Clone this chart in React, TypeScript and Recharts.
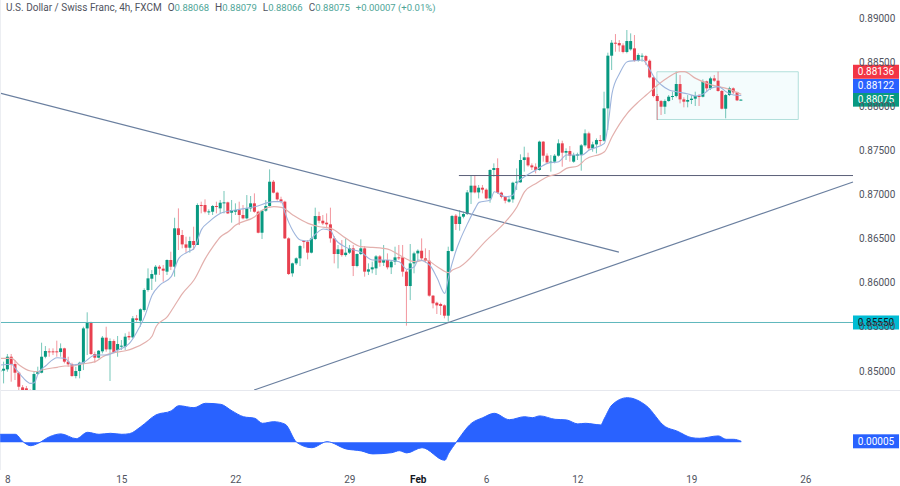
import { Area, Bar, ComposedChart, Line, ReferenceArea, ReferenceDot, ReferenceLine, XAxis, YAxis } from "recharts";

// 4h candles
const opens = [
  0.84992, 0.85004, 0.85019, 0.85162, 0.85079, 0.84981, 0.84815, 0.84804, 0.84766, 0.84747,
  0.84966, 0.84981, 0.85162, 0.85223, 0.85223, 0.85223, 0.85215, 0.85257, 0.85106, 0.85076,
  0.84943, 0.85000, 0.85087, 0.85483, 0.85551, 0.85193, 0.85151, 0.85223, 0.85378, 0.85245,
  0.85340, 0.85238, 0.85276, 0.85276, 0.85397, 0.85381, 0.85597, 0.85570, 0.85691, 0.85918,
  0.86046, 0.86092, 0.86182, 0.86160, 0.86126, 0.86258, 0.86182, 0.86617, 0.86541, 0.86435,
  0.86397, 0.86473, 0.86428, 0.86881, 0.86881, 0.86805, 0.86805, 0.86870, 0.86843, 0.86907,
  0.86911, 0.86794, 0.86805, 0.86824, 0.86768, 0.86730, 0.86843, 0.86900, 0.86805, 0.86567,
  0.86817, 0.86870, 0.87145, 0.87021, 0.86945, 0.86919, 0.86503, 0.86107, 0.86220, 0.86277,
  0.86473, 0.86465, 0.86341, 0.86496, 0.86756, 0.86703, 0.86681, 0.86662, 0.86503, 0.86326,
  0.86379, 0.86314, 0.86341, 0.86390, 0.86190, 0.86326, 0.86390, 0.86126, 0.86152, 0.86163,
  0.86299, 0.86228, 0.86258, 0.86175, 0.86239, 0.86288, 0.86288, 0.86126, 0.85963, 0.86220,
  0.86333, 0.86363, 0.86277, 0.86250, 0.85854, 0.85774, 0.85759, 0.85744, 0.85627, 0.86360,
  0.86760, 0.86666, 0.86749, 0.86779, 0.87024, 0.87100, 0.87024, 0.87077, 0.87055, 0.86956,
  0.87278, 0.87300, 0.87021, 0.86975, 0.86919, 0.86945, 0.87134, 0.87138, 0.87391, 0.87421,
  0.87330, 0.87315, 0.87278, 0.87599, 0.87440, 0.87364, 0.87372, 0.87440, 0.87580, 0.87474,
  0.87493, 0.87372, 0.87440, 0.87447, 0.87557, 0.87693, 0.87523, 0.87568, 0.87617, 0.87610,
  0.87976, 0.88573, 0.88720, 0.88716, 0.88690, 0.88615, 0.88645, 0.88656, 0.88516, 0.88569,
  0.88569, 0.88516, 0.88327, 0.88116, 0.88059, 0.87995, 0.88059, 0.88108, 0.88116, 0.88252,
  0.88078, 0.88052, 0.88071, 0.88086, 0.88116, 0.88108, 0.88282, 0.88203, 0.88316, 0.88290,
  0.88173, 0.87972, 0.88127, 0.88203, 0.88158, 0.88068,
];
const highs = [
  0.85068, 0.85106, 0.85193, 0.85193, 0.85125, 0.84992, 0.84841, 0.84830, 0.84792, 0.84992,
  0.85049, 0.85321, 0.85283, 0.85257, 0.85257, 0.85344, 0.85313, 0.85264, 0.85162, 0.85094,
  0.85049, 0.85106, 0.85502, 0.85665, 0.85559, 0.85219, 0.85238, 0.85397, 0.85502, 0.85370,
  0.85359, 0.85397, 0.85351, 0.85427, 0.85446, 0.85623, 0.85635, 0.85710, 0.85937, 0.86163,
  0.86144, 0.86201, 0.86201, 0.86201, 0.86265, 0.86352, 0.86737, 0.86843, 0.86598, 0.86522,
  0.86522, 0.86635, 0.86900, 0.86919, 0.86945, 0.86832, 0.86881, 0.86919, 0.86938, 0.87040,
  0.86919, 0.86938, 0.86900, 0.86919, 0.86881, 0.86994, 0.86983, 0.87013, 0.86817, 0.86824,
  0.86938, 0.87285, 0.87164, 0.87032, 0.86975, 0.86930, 0.86515, 0.86228, 0.86288, 0.86428,
  0.86484, 0.86484, 0.86635, 0.86851, 0.86805, 0.86768, 0.86786, 0.86851, 0.86530, 0.86428,
  0.86484, 0.86503, 0.86428, 0.86428, 0.86333, 0.86492, 0.86416, 0.86220, 0.86239, 0.86314,
  0.86314, 0.86428, 0.86333, 0.86258, 0.86409, 0.86428, 0.86428, 0.86144, 0.86439, 0.86352,
  0.86379, 0.86503, 0.86390, 0.86371, 0.85861, 0.85786, 0.85774, 0.85755, 0.86409, 0.86768,
  0.86779, 0.86824, 0.86805, 0.87051, 0.87210, 0.87221, 0.87108, 0.87108, 0.87070, 0.87285,
  0.87353, 0.87410, 0.87032, 0.86983, 0.86975, 0.87145, 0.87296, 0.87455, 0.87542, 0.87474,
  0.87353, 0.87353, 0.87610, 0.87606, 0.87466, 0.87447, 0.87459, 0.87625, 0.87610, 0.87523,
  0.87549, 0.87474, 0.87474, 0.87572, 0.87738, 0.87712, 0.87598, 0.87636, 0.87674, 0.88165,
  0.88607, 0.88750, 0.88818, 0.88750, 0.88713, 0.88864, 0.88826, 0.88807, 0.88600, 0.88600,
  0.88581, 0.88531, 0.88335, 0.88139, 0.88071, 0.88078, 0.88127, 0.88165, 0.88392, 0.88354,
  0.88101, 0.88127, 0.88127, 0.88165, 0.88139, 0.88305, 0.88290, 0.88335, 0.88354, 0.88392,
  0.88184, 0.88139, 0.88222, 0.88214, 0.88165, 0.88079,
];
const lows = [
  0.84955, 0.84860, 0.84992, 0.84879, 0.84898, 0.84785, 0.84747, 0.84728, 0.84671, 0.84728,
  0.84955, 0.84974, 0.85144, 0.85162, 0.85181, 0.85162, 0.85162, 0.85087, 0.85049, 0.84936,
  0.84917, 0.84917, 0.85011, 0.85181, 0.85181, 0.85094, 0.85144, 0.85200, 0.85219, 0.84887,
  0.85200, 0.85162, 0.85238, 0.85238, 0.85351, 0.85370, 0.85559, 0.85502, 0.85672, 0.85899,
  0.85918, 0.86012, 0.86088, 0.86012, 0.86088, 0.86144, 0.86069, 0.86371, 0.86390, 0.86341,
  0.86341, 0.86371, 0.86428, 0.86787, 0.86787, 0.86768, 0.86768, 0.86787, 0.86786, 0.86786,
  0.86779, 0.86681, 0.86768, 0.86654, 0.86719, 0.86719, 0.86805, 0.86794, 0.86560, 0.86496,
  0.86805, 0.86862, 0.87013, 0.86930, 0.86900, 0.86496, 0.86088, 0.86069, 0.86201, 0.86190,
  0.86390, 0.86265, 0.86333, 0.86484, 0.86673, 0.86654, 0.86617, 0.86454, 0.86220, 0.86163,
  0.86296, 0.86296, 0.86326, 0.86076, 0.86175, 0.86314, 0.86069, 0.86088, 0.86107, 0.86088,
  0.86182, 0.86190, 0.86152, 0.86099, 0.86201, 0.86258, 0.86069, 0.85514, 0.85804, 0.86107,
  0.86258, 0.86258, 0.86228, 0.85842, 0.85710, 0.85646, 0.85635, 0.85597, 0.85559, 0.86352,
  0.86598, 0.86590, 0.86730, 0.86768, 0.86892, 0.87013, 0.86956, 0.87013, 0.86945, 0.86907,
  0.87202, 0.87006, 0.86956, 0.86900, 0.86907, 0.86907, 0.87051, 0.87134, 0.87259, 0.87315,
  0.87278, 0.87240, 0.87270, 0.87372, 0.87345, 0.87259, 0.87353, 0.87429, 0.87315, 0.87391,
  0.87372, 0.87360, 0.87391, 0.87270, 0.87542, 0.87504, 0.87485, 0.87466, 0.87561, 0.87599,
  0.87731, 0.88411, 0.88618, 0.88618, 0.88600, 0.88600, 0.88630, 0.88505, 0.88505, 0.88505,
  0.88467, 0.88316, 0.88101, 0.87844, 0.87901, 0.87912, 0.88052, 0.88071, 0.88101, 0.88033,
  0.87988, 0.87988, 0.88025, 0.88003, 0.88003, 0.88101, 0.88165, 0.88184, 0.88278, 0.88165,
  0.87965, 0.87863, 0.88116, 0.88139, 0.88059, 0.88066,
];
const closes = [
  0.85011, 0.85026, 0.85162, 0.85079, 0.84981, 0.84822, 0.84785, 0.84777, 0.84709, 0.84966,
  0.84992, 0.85162, 0.85227, 0.85215, 0.85215, 0.85215, 0.85257, 0.85106, 0.85076, 0.84943,
  0.85000, 0.85094, 0.85483, 0.85551, 0.85193, 0.85151, 0.85230, 0.85378, 0.85245, 0.85340,
  0.85212, 0.85306, 0.85287, 0.85389, 0.85381, 0.85597, 0.85578, 0.85699, 0.85918, 0.86050,
  0.86099, 0.86182, 0.86160, 0.86137, 0.86258, 0.86182, 0.86617, 0.86541, 0.86435, 0.86397,
  0.86473, 0.86428, 0.86881, 0.86877, 0.86805, 0.86809, 0.86870, 0.86862, 0.86907, 0.86911,
  0.86786, 0.86824, 0.86824, 0.86768, 0.86730, 0.86843, 0.86900, 0.86805, 0.86567, 0.86817,
  0.86870, 0.87145, 0.87021, 0.86945, 0.86919, 0.86503, 0.86099, 0.86220, 0.86277, 0.86416,
  0.86465, 0.86341, 0.86503, 0.86756, 0.86703, 0.86673, 0.86662, 0.86503, 0.86326, 0.86379,
  0.86314, 0.86341, 0.86390, 0.86190, 0.86326, 0.86390, 0.86126, 0.86152, 0.86175, 0.86299,
  0.86228, 0.86258, 0.86175, 0.86239, 0.86288, 0.86284, 0.86126, 0.85963, 0.86220, 0.86333,
  0.86363, 0.86277, 0.86250, 0.85854, 0.85767, 0.85744, 0.85737, 0.85627, 0.86360, 0.86756,
  0.86666, 0.86749, 0.86779, 0.87024, 0.87100, 0.87024, 0.87077, 0.87055, 0.86956, 0.87278,
  0.87300, 0.87021, 0.86975, 0.86930, 0.86945, 0.87134, 0.87145, 0.87391, 0.87421, 0.87330,
  0.87308, 0.87278, 0.87599, 0.87440, 0.87364, 0.87372, 0.87440, 0.87580, 0.87474, 0.87493,
  0.87440, 0.87447, 0.87455, 0.87557, 0.87693, 0.87523, 0.87568, 0.87617, 0.87610, 0.87976,
  0.88573, 0.88720, 0.88716, 0.88690, 0.88615, 0.88739, 0.88739, 0.88516, 0.88581, 0.88573,
  0.88516, 0.88327, 0.88116, 0.88059, 0.87995, 0.88059, 0.88108, 0.88116, 0.88252, 0.88078,
  0.88052, 0.88071, 0.88086, 0.88116, 0.88112, 0.88282, 0.88203, 0.88316, 0.88290, 0.88173,
  0.87972, 0.88127, 0.88203, 0.88158, 0.88067, 0.88075,
];

// moving averages, read at the bars where the line bends
const fastBars = [0, 3, 4, 6, 8, 9, 10, 12, 15, 17, 19, 22, 25, 28, 31, 34, 36, 38, 40, 42, 45, 47, 49, 51, 53, 55, 58, 62, 67, 72, 74, 75, 77, 79, 81, 83, 85, 87, 88, 91, 95, 98, 102, 105, 107, 109, 110, 113, 115, 117, 118, 120, 121, 123, 125, 126, 129, 130, 133, 135, 136, 138, 141, 144, 147, 149, 153, 155, 159, 160, 161, 163, 165, 167, 169, 171, 172, 174, 176, 178, 181, 183, 185, 187, 189, 191, 193, 195];
const fastMa = [0.85068, 0.85076, 0.8503, 0.84924, 0.8486, 0.84868, 0.84974, 0.8506, 0.85151, 0.85144, 0.85068, 0.85098, 0.85181, 0.85181, 0.85238, 0.85313, 0.85446, 0.85616, 0.85861, 0.85974, 0.86069, 0.86276, 0.86341, 0.8639, 0.86605, 0.86692, 0.86787, 0.86824, 0.86862, 0.86919, 0.86919, 0.86786, 0.8659, 0.86484, 0.86473, 0.86552, 0.86609, 0.8659, 0.86503, 0.86401, 0.86345, 0.86258, 0.86258, 0.86239, 0.86152, 0.86182, 0.86258, 0.86201, 0.8605, 0.8588, 0.86069, 0.86371, 0.86484, 0.86673, 0.86843, 0.86911, 0.86938, 0.87032, 0.86975, 0.86994, 0.87126, 0.87202, 0.87278, 0.87353, 0.87372, 0.87447, 0.87447, 0.87504, 0.8758, 0.87806, 0.88146, 0.88373, 0.88505, 0.88516, 0.88524, 0.88411, 0.88335, 0.88241, 0.88184, 0.88165, 0.88139, 0.88116, 0.88139, 0.88203, 0.88222, 0.88165, 0.88127, 0.88122];
const slowBars = [0, 3, 5, 8, 10, 11, 15, 17, 19, 21, 25, 27, 29, 33, 35, 38, 40, 41, 44, 46, 48, 51, 54, 56, 58, 60, 62, 67, 69, 72, 74, 77, 81, 84, 87, 91, 95, 98, 102, 105, 109, 112, 115, 118, 119, 121, 128, 133, 136, 138, 141, 144, 147, 149, 152, 154, 159, 161, 165, 168, 170, 173, 176, 179, 180, 183, 186, 189, 191, 194, 195];
const slowMa = [0.85144, 0.85144, 0.85068, 0.85, 0.84992, 0.85011, 0.85042, 0.85057, 0.85057, 0.85076, 0.85106, 0.85162, 0.852, 0.8523, 0.85257, 0.85321, 0.85397, 0.85502, 0.85616, 0.85748, 0.8588, 0.86031, 0.86277, 0.86409, 0.86522, 0.86579, 0.86654, 0.86749, 0.86824, 0.86862, 0.86855, 0.86768, 0.86673, 0.86635, 0.86617, 0.86503, 0.86409, 0.86401, 0.86382, 0.86314, 0.86239, 0.86258, 0.86182, 0.86114, 0.86144, 0.86182, 0.86484, 0.86692, 0.86862, 0.87032, 0.87126, 0.87202, 0.8724, 0.87296, 0.87323, 0.87398, 0.87485, 0.87655, 0.8792, 0.88052, 0.88127, 0.88241, 0.88335, 0.88392, 0.88392, 0.88316, 0.8826, 0.88222, 0.88203, 0.88154, 0.88136];

// lower pane oscillator
const oscBars = [0, 4, 6, 8, 10, 13, 16, 20, 23, 26, 29, 32, 34, 37, 41, 45, 47, 51, 54, 58, 61, 64, 67, 69, 72, 75, 78, 82, 86, 91, 95, 98, 103, 105, 107, 111, 117, 118, 120, 124, 127, 130, 134, 138, 140, 142, 146, 149, 152, 154, 158, 159, 161, 165, 170, 175, 178, 182, 184, 189, 191, 193, 195];
const oscValues = [0.0004, 0.0004, 0.00003, -0.00017, -0.00005, 0.00028, 0.00042, 0.00018, 0.0005, 0.0004, 0.00045, 0.0004, 0.00043, 0.00078, 0.00137, 0.00157, 0.00183, 0.00173, 0.00195, 0.0019, 0.00157, 0.00128, 0.0012, 0.00095, 0.00103, 0.0009, 0, -0.00027, 0.00003, -0.00033, -0.00043, -0.00058, -0.00052, -0.00042, -0.00053, -0.00027, -0.0009, -0.00055, 0, 0.00095, 0.00123, 0.00145, 0.00113, 0.00128, 0.00123, 0.00132, 0.00115, 0.00112, 0.00092, 0.00095, 0.00087, 0.0012, 0.00187, 0.00223, 0.00183, 0.00078, 0.00057, 0.00023, 0.0002, 0.00032, 0.00015, 0.00015, 0.00005];

// drawn objects
const supportLevel = 0.8555;
const breakLevel = 0.87215;
const fallingLine = [{ bar: -0.05, price: 0.8815 }, { bar: 162.8, price: 0.86348 }];
const risingLine = [{ bar: 66.8, price: 0.84785 }, { bar: 224.4, price: 0.87142 }];
const breakStart = 120.7;
const boxBars = [172.8, 210];
const boxPrices = [0.8785, 0.88391];

const priceTicks = [0.85, 0.855, 0.86, 0.865, 0.87, 0.875, 0.88, 0.885, 0.89];
const timeTicks = [2, 32, 62, 92, 110, 128, 152, 182, 212];
const timeLabels = ["8", "15", "22", "29", "Feb", "6", "12", "19", "26"];

const GREEN = "#089981";
const RED = "#e8404f";
const TEXT = "#50535e";
const HEADER_VALUE = "#4ea597";
const FONT = "Roboto, sans-serif";
const X_DOMAIN: [number, number] = [-0.05, 224.4];

const rows = opens.map((open, i) => {
  const fastAt = fastBars.indexOf(i);
  const slowAt = slowBars.indexOf(i);
  return {
    bar: i,
    open,
    high: highs[i],
    low: lows[i],
    close: closes[i],
    fast: fastAt >= 0 ? fastMa[fastAt] : null,
    slow: slowAt >= 0 ? slowMa[slowAt] : null,
  };
});
const oscRows = oscBars.map((bar, i) => ({ bar, value: oscValues[i] }));

function Candle(props: any) {
  const { x, y, width, height, payload } = props;
  const top = Math.min(y, y + height);
  const perUnit = Math.abs(height) / (payload.high - payload.low);
  const at = (v: number) => top + (payload.high - v) * perUnit;
  const up = payload.close >= payload.open;
  const color = up ? GREEN : RED;
  const bodyTop = at(Math.max(payload.open, payload.close));
  const bodyH = Math.max(1, Math.abs(at(payload.open) - at(payload.close)));
  const mid = x + width / 2;
  return (
    <g>
      <line x1={mid} x2={mid} y1={top} y2={top + Math.abs(height)} stroke={color} strokeOpacity={0.55} />
      <rect x={mid - 1.5} y={bodyTop} width={3} height={bodyH} fill={color} />
    </g>
  );
}

const priceTag = (text: string, fill: string, color: string, shift: number) => (props: any) => (
  <g>
    <rect x={props.cx} y={props.cy + shift - 7} width={46} height={14} fill={fill} />
    <text x={props.cx + 23} y={props.cy + shift + 3.5} fontSize={10} textAnchor="middle" fill={color} fontFamily={FONT}>
      {text}
    </text>
  </g>
);

function TimeTick(props: any) {
  const label = timeLabels[timeTicks.indexOf(props.payload.value)];
  const isMonth = label === "Feb";
  return (
    <text x={props.x} y={props.y + 5} fontSize={10} textAnchor="middle" fontFamily={FONT} fontWeight={isMonth ? 700 : 400} fill={isMonth ? "#131722" : TEXT}>
      {label}
    </text>
  );
}

export default function App() {
  return (
    <div style={{ position: "absolute", left: 0, top: 0, width: 900, height: 486, background: "#fff", overflow: "hidden" }}>
      <ComposedChart width={900} height={390} data={rows} margin={{ top: 0, right: 0, bottom: 0, left: 0 }} style={{ position: "absolute", left: 0, top: 0 }}>
        <XAxis dataKey="bar" type="number" domain={X_DOMAIN} hide allowDataOverflow />
        <YAxis
          orientation="right"
          width={47}
          domain={[0.84785, 0.89204]}
          allowDataOverflow
          ticks={priceTicks}
          tickFormatter={(v: number) => v.toFixed(5)}
          tick={{ fontSize: 10, fill: TEXT, fontFamily: FONT }}
          tickLine={false}
          tickSize={0}
          axisLine={false}
          tickMargin={6}
        />
        <ReferenceArea x1={boxBars[0]} x2={boxBars[1]} y1={boxPrices[0]} y2={boxPrices[1]} fill="#b2ebf2" fillOpacity={0.15} stroke="#b2dfdb" strokeWidth={1} />
        <ReferenceLine y={supportLevel} stroke="#5fb8bd" strokeWidth={1} />
        <ReferenceLine segment={[{ x: breakStart, y: breakLevel }, { x: X_DOMAIN[1], y: breakLevel }]} stroke="#5a5f78" strokeWidth={1} />
        <ReferenceLine segment={fallingLine.map((p) => ({ x: p.bar, y: p.price }))} stroke="#6a7f9f" strokeWidth={1.2} />
        <ReferenceLine segment={risingLine.map((p) => ({ x: p.bar, y: p.price }))} stroke="#6a7f9f" strokeWidth={1.2} />
        <Bar dataKey={(d: any) => [d.low, d.high]} barSize={3} shape={Candle} isAnimationActive={false} />
        <Line dataKey="slow" type="monotone" stroke="#e3b0ad" strokeWidth={1.2} dot={false} connectNulls isAnimationActive={false} />
        <Line dataKey="fast" type="monotone" stroke="#9db4dc" strokeWidth={1.1} dot={false} connectNulls isAnimationActive={false} />
        <ReferenceDot x={X_DOMAIN[1]} y={supportLevel} r={0} ifOverflow="visible" shape={priceTag("0.85550", "#00bcd4", "#131722", 0)} />
        <ReferenceDot x={X_DOMAIN[1]} y={closes[195]} r={0} ifOverflow="visible" shape={priceTag("0.88075", GREEN, "#fff", 0)} />
        <ReferenceDot x={X_DOMAIN[1]} y={fastMa[fastMa.length - 1]} r={0} ifOverflow="visible" shape={priceTag("0.88122", "#2962ff", "#fff", -9.5)} />
        <ReferenceDot x={X_DOMAIN[1]} y={slowMa[slowMa.length - 1]} r={0} ifOverflow="visible" shape={priceTag("0.88136", "#f23645", "#fff", -22.5)} />
      </ComposedChart>

      <div style={{ position: "absolute", left: 0, top: 390, width: 900, height: 1, background: "#e6e8ee" }} />
      <div style={{ position: "absolute", left: 0, top: 0, width: 1, height: 470, background: "#eceef2" }} />

      <ComposedChart width={900} height={95} data={oscRows} margin={{ top: 0, right: 47, bottom: 0, left: 0 }} style={{ position: "absolute", left: 0, top: 391 }}>
        <XAxis dataKey="bar" type="number" domain={X_DOMAIN} ticks={timeTicks} interval={0} tick={TimeTick} tickLine={false} axisLine={false} height={16} allowDataOverflow />
        <YAxis hide domain={[-0.001385, 0.002565]} allowDataOverflow />
        <Area dataKey="value" type="monotone" stroke="#2962ff" strokeWidth={1} fill="#2962ff" fillOpacity={1} baseValue={0} dot={false} isAnimationActive={false} />
        <ReferenceDot x={X_DOMAIN[1]} y={oscValues[oscValues.length - 1]} r={0} ifOverflow="visible" shape={priceTag("0.00005", "#2962ff", "#fff", 0)} />
      </ComposedChart>

      <div style={{ position: "absolute", left: 6, top: 2, fontFamily: FONT, fontSize: 10, color: TEXT, whiteSpace: "pre" }}>
        U.S. Dollar / Swiss Franc, 4h, FXCM
        <span style={{ marginLeft: 6 }}>O</span>
        <span style={{ color: HEADER_VALUE, fontSize: 9.5 }}>0.88068</span>
        <span style={{ marginLeft: 6 }}>H</span>
        <span style={{ color: HEADER_VALUE, fontSize: 9.5 }}>0.88079</span>
        <span style={{ marginLeft: 6 }}>L</span>
        <span style={{ color: HEADER_VALUE, fontSize: 9.5 }}>0.88066</span>
        <span style={{ marginLeft: 6 }}>C</span>
        <span style={{ color: HEADER_VALUE, fontSize: 9.5 }}>0.88075</span>
        <span style={{ color: HEADER_VALUE, marginLeft: 6, fontSize: 9.5 }}>+0.00007 (+0.01%)</span>
      </div>
    </div>
  );
}
